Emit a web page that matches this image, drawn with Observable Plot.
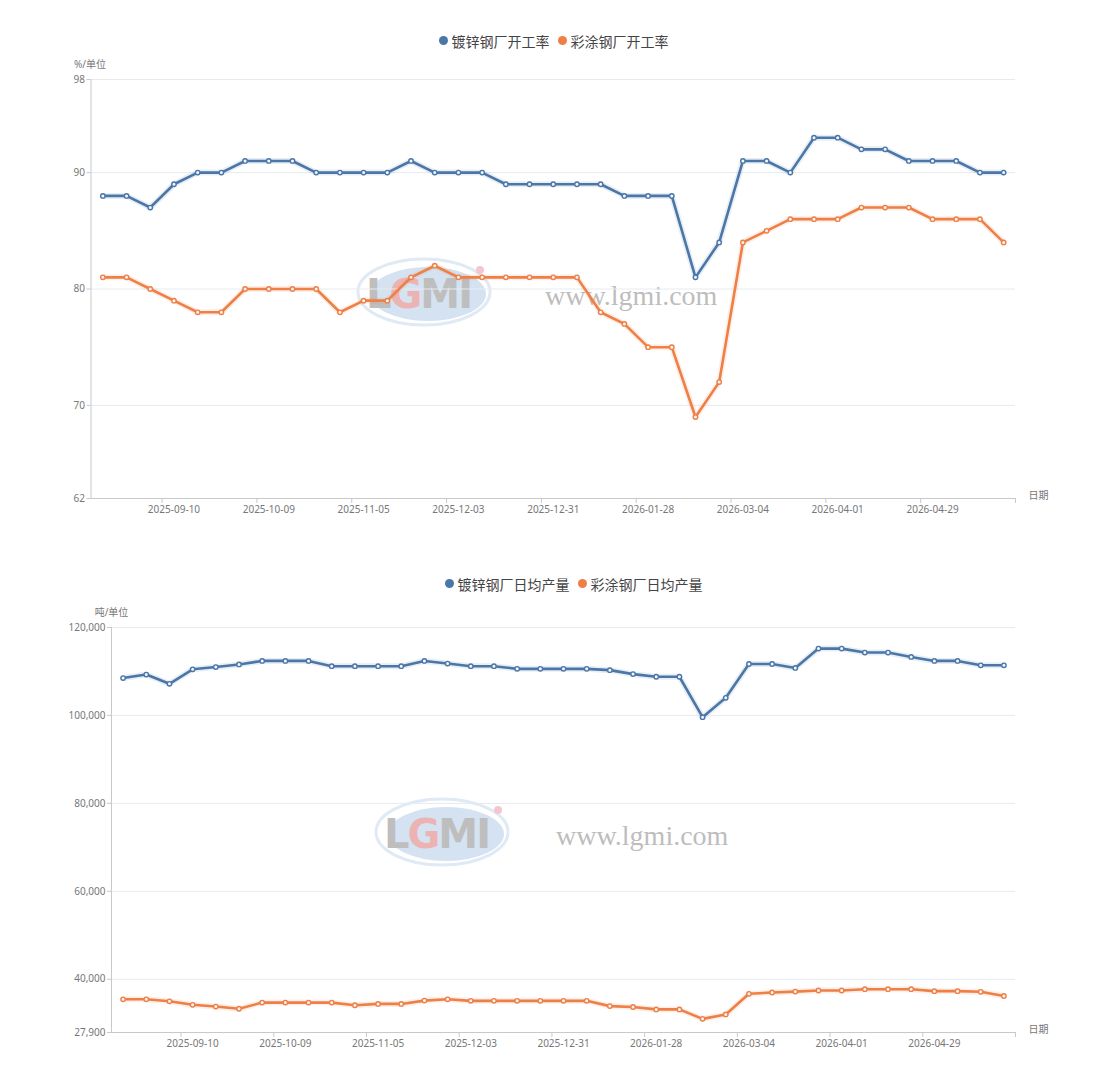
<!DOCTYPE html>
<html>
<head>
<meta charset="utf-8">
<script src="https://cdn.jsdelivr.net/npm/d3@7"></script>
<script src="https://cdn.jsdelivr.net/npm/@observablehq/plot@0.6"></script>
<style>
  html, body { margin: 0; padding: 0; background: #fff; }
  body { width: 1107px; height: 1080px; position: relative; overflow: hidden;
         font-family: "Noto Sans CJK SC", "Noto Sans", sans-serif; }
  .legend { position: absolute; left: 0; width: 1107px; text-align: center; font-size: 14px; color: #444; white-space: nowrap; }
  .legend span.item { display: inline-flex; align-items: center; margin: 0 4px; }
  .legend span.dot { display: inline-block; width: 9px; height: 9px; border-radius: 50%; margin-right: 4px; }
  .chart { position: absolute; left: 0; z-index: 2; }
  .chart svg { background: transparent !important; }
  .wm { position: absolute; left: 0; top: 0; z-index: 1; pointer-events: none; }
</style>
</head>
<body>
<div class="legend" id="leg1" style="top:29px"></div>
<div class="chart" id="c1" style="top:55px"></div>
<div class="legend" id="leg2" style="top:572px; padding-left:20px"></div>
<div class="chart" id="c2" style="top:600px"></div>
<svg class="wm" width="1107" height="1080" id="wm"></svg>
<script>
// ---------- data ----------
const dates = ["2025-08-20","2025-08-27","2025-09-03","2025-09-10","2025-09-17","2025-09-24","2025-09-30",
  "2025-10-09","2025-10-15","2025-10-22","2025-10-29","2025-11-05","2025-11-12","2025-11-19","2025-11-26",
  "2025-12-03","2025-12-10","2025-12-17","2025-12-24","2025-12-31","2026-01-07","2026-01-14","2026-01-21",
  "2026-01-28","2026-02-04","2026-02-11","2026-02-25","2026-03-04","2026-03-11","2026-03-18","2026-03-25",
  "2026-04-01","2026-04-08","2026-04-15","2026-04-22","2026-04-29","2026-05-06","2026-05-13","2026-05-20"];
const labelIdx = [3, 7, 11, 15, 19, 23, 27, 31, 35];

const rateNames = ["镀锌钢厂开工率", "彩涂钢厂开工率"];
const galvRate = [88,88,87,89,90,90,91,91,91,90,90,90,90,91,90,90,90,89,89,89,89,89,88,88,88,81,84,91,91,90,93,93,92,92,91,91,91,90,90];
const colorRate = [81,81,80,79,78,78,80,80,80,80,78,79,79,81,82,81,81,81,81,81,81,78,77,75,75,69,72,84,85,86,86,86,87,87,87,86,86,86,84];
const rateTicks = [62, 70, 80, 90, 98];

const outNames = ["镀锌钢厂日均产量", "彩涂钢厂日均产量"];
const galvOut = [108500,109300,107200,110500,111000,111600,112400,112400,112400,111200,111200,111200,111200,112400,111800,111200,111200,110600,110600,110600,110600,110300,109400,108800,108800,99600,104000,111700,111700,110800,115200,115200,114300,114300,113300,112400,112400,111400,111400];
const colorOut = [35450,35450,35000,34200,33800,33300,34700,34700,34700,34700,34100,34400,34400,35150,35450,35100,35100,35100,35100,35100,35100,33900,33700,33150,33150,31000,32000,36700,37000,37200,37450,37450,37750,37750,37750,37300,37300,37150,36200];
const outTicks = [27900, 40000, 60000, 80000, 100000, 120000];

const BLUE = "#4a76a8", ORANGE = "#ee7f45";

function legend(el, names) {
  el.innerHTML = names.map((n, k) =>
    `<span class="item"><span class="dot" style="background:${k ? ORANGE : BLUE}"></span>${n}</span>`).join("");
}

function chart({a, b, ticks, fmt, height, marginLeft, marginTop, marginBottom, unit, unitDx, unitDy}) {
  const rows = (arr) => arr.map((v, i) => ({i, v}));
  const dom = [ticks[0], ticks[ticks.length - 1]];
  const tickPos = labelIdx.map(i => i - 0.5).concat([dates.length - 0.5]);
  const lineSet = (arr, c) => [
    Plot.line(rows(arr), {x: "i", y: "v", stroke: c, strokeWidth: 6, strokeOpacity: 0.12}),
    Plot.line(rows(arr), {x: "i", y: "v", stroke: c, strokeWidth: 2.6}),
    Plot.dot(rows(arr), {x: "i", y: "v", r: 2.2, fill: "#f4f6f9", stroke: c, strokeWidth: 1.4})
  ];
  return Plot.plot({
    width: 1107, height, marginLeft, marginRight: 92, marginTop, marginBottom,
    x: {type: "linear", domain: [-0.5, dates.length - 0.5]},
    y: {domain: dom},
    style: {fontFamily: "'Noto Sans', 'Noto Sans CJK SC', sans-serif", fontSize: "10px", color: "#777", background: "transparent"},
    marks: [
      Plot.gridY(ticks, {stroke: "#e6ebf2", strokeOpacity: 1}),
      Plot.ruleY([dom[0]], {stroke: "#c9c9c9"}),
      Plot.ruleX([-0.5], {stroke: "#c9c9c9"}),
      Plot.axisY({ticks, tickSize: 4, tickPadding: 2, stroke: "#c9c9c9", tickFormat: fmt, label: null}),
      Plot.axisX({ticks: tickPos, tickSize: 5, stroke: "#c9c9c9", tickFormat: () => "", label: null}),
      Plot.axisX({ticks: labelIdx, tickSize: 0, tickPadding: 7, tickFormat: i => dates[i], label: null}),
      Plot.text([unit], {frameAnchor: "top-left", textAnchor: "middle", dx: unitDx, dy: unitDy, fill: "#777", fontSize: 10}),
      Plot.text(["日期"], {frameAnchor: "bottom-right", textAnchor: "middle", dx: 23, dy: 0, fill: "#777", fontSize: 10}),
      ...lineSet(a, BLUE),
      ...lineSet(b, ORANGE)
    ]
  });
}

legend(document.getElementById("leg1"), rateNames);
legend(document.getElementById("leg2"), outNames);

document.getElementById("c1").append(chart({
  a: galvRate, b: colorRate, ticks: rateTicks, fmt: d3.format("d"),
  height: 480, marginLeft: 90.5, marginTop: 24, marginBottom: 37,
  unit: "%/单位", unitDx: -1, unitDy: -19
}));
document.getElementById("c2").append(chart({
  a: galvOut, b: colorOut, ticks: outTicks, fmt: d3.format(","),
  height: 470, marginLeft: 111, marginTop: 27, marginBottom: 38,
  unit: "吨/单位", unitDx: 0, unitDy: -19
}));

// ---------- watermark ----------
function mark(svg, cx, cy, wx) {
  const g = svg.append("g").attr("opacity", 0.75);
  g.append("ellipse").attr("cx", cx).attr("cy", cy).attr("rx", 66).attr("ry", 33)
    .attr("fill", "none").attr("stroke", "#d6e3f1").attr("stroke-width", 3);
  g.append("ellipse").attr("cx", cx + 4).attr("cy", cy + 2).attr("rx", 58).attr("ry", 27)
    .attr("fill", "#c6d9ee");
  const t = g.append("text").attr("x", cx - 58).attr("y", cy + 16)
    .attr("font-family", "'DejaVu Sans', sans-serif").attr("font-weight", "bold").attr("font-size", 40)
    .attr("letter-spacing", -2);
  t.append("tspan").attr("fill", "#a9a9a9").text("L");
  t.append("tspan").attr("fill", "#e79a9a").text("G");
  t.append("tspan").attr("fill", "#a9a9a9").text("MI");
  g.append("circle").attr("cx", cx + 56).attr("cy", cy - 22).attr("r", 4).attr("fill", "#f1b3c0");
  svg.append("text").attr("x", wx).attr("y", cy + 13)
    .attr("font-family", "'Liberation Serif', 'DejaVu Serif', serif").attr("font-size", 28)
    .attr("fill", "#bdbdbd").text("www.lgmi.com");
}
const wm = d3.select("#wm");
mark(wm, 424, 292, 545);
mark(wm, 442, 832, 556);
</script>
</body>
</html>
